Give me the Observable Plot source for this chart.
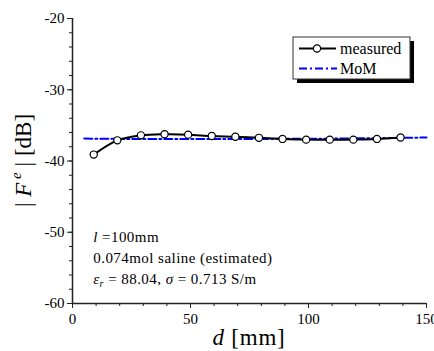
<!DOCTYPE html>
<html>
<head>
<meta charset="utf-8">
<script src="https://cdn.jsdelivr.net/npm/d3@7"></script>
<script src="https://cdn.jsdelivr.net/npm/@observablehq/plot@0.6"></script>
<style>
  html, body { margin: 0; padding: 0; background: #fff; }
  #wrap { position: relative; width: 434px; height: 351px; overflow: hidden; }
</style>
</head>
<body>
<div id="wrap"></div>
<script>
// ---- data ----
const measuredD  = [9, 19, 29, 39, 49, 59, 69, 79, 89, 99, 109, 119, 129, 139];
const measuredDb = [-39.1, -37.1, -36.4, -36.25, -36.3, -36.5, -36.6, -36.75, -36.9, -37.0, -37.0, -37.0, -36.9, -36.7];
const momD  = [5, 20, 40, 60, 80, 100, 120, 140, 150];
const momDb = [-36.85, -36.9, -36.9, -36.9, -36.9, -36.88, -36.82, -36.75, -36.7];
const xMajor = [0, 50, 100, 150];
const xMinor = [0, 10, 20, 30, 40, 50, 60, 70, 80, 90, 100, 110, 120, 130, 140, 150];
const yMajor = [-60, -50, -40, -30, -20];
const yMinor = [-60, -58, -56, -54, -52, -50, -48, -46, -44, -42, -40, -38, -36, -34, -32, -30, -28, -26, -24, -22, -20];
const legendLabels = ["measured", "MoM"];
const noteLines = ["=100mm", "0.074mol saline (estimated)", "= 88.04, ", "= 0.713 S/m"];

const measured = measuredD.map((d, i) => ({d, v: measuredDb[i]}));
const mom = momD.map((d, i) => ({d, v: momDb[i]}));

const FONT = "'Liberation Serif', 'Times New Roman', serif";
const AX = "#222";

const chart = Plot.plot({
  width: 434,
  height: 351,
  marginLeft: 72,
  marginRight: 8,
  marginTop: 18,
  marginBottom: 48,
  x: {domain: [0, 150]},
  y: {domain: [-60, -20]},
  style: {fontFamily: FONT, fontSize: "15px", background: "white", color: "black", overflow: "visible"},
  marks: [
    Plot.axisY({ticks: yMinor, tickSize: 3, tickFormat: () => "", label: null, stroke: AX}),
    Plot.axisY({ticks: yMajor, tickSize: 5, tickPadding: 3, tickFormat: d => String(d), label: null, stroke: AX, fontSize: 15}),
    Plot.axisX({ticks: xMinor, tickSize: 3, tickFormat: () => "", label: null, stroke: AX}),
    Plot.axisX({ticks: xMajor, tickSize: 5, tickPadding: 5, tickFormat: d => String(d), label: null, stroke: AX, fontSize: 15}),
    Plot.ruleX([0], {stroke: AX, strokeWidth: 1.5}),
    Plot.ruleY([-60], {stroke: AX, strokeWidth: 1.5}),
    Plot.line(mom, {x: "d", y: "v", stroke: "#0000ff", strokeWidth: 2, strokeDasharray: "8,3,2,3"}),
    Plot.line(measured, {x: "d", y: "v", stroke: "black", strokeWidth: 2, curve: "catmull-rom"}),
    Plot.dot(measured, {x: "d", y: "v", r: 3.6, fill: "white", stroke: "black", strokeWidth: 1.2})
  ]
});

document.getElementById("wrap").appendChild(chart);

const svg = d3.select(chart);
const xs = chart.scale("x"), ys = chart.scale("y");
const X = v => xs.apply(v), Y = v => ys.apply(v);

// y axis title |F^e| [dB]
const cy = (Y(-20) + Y(-60)) / 2;
const yt = svg.append("text")
  .attr("transform", `translate(31,${cy}) rotate(-90)`)
  .attr("text-anchor", "middle")
  .attr("font-family", FONT).attr("font-size", 23).attr("fill", "black");
yt.append("tspan").text("| ");
yt.append("tspan").attr("font-style", "italic").text("F");
yt.append("tspan").attr("font-style", "italic").attr("font-size", 15).attr("dy", -10).text(" e");
yt.append("tspan").attr("dy", 10).text(" | [dB]");

// x axis title d [mm]
const xt = svg.append("text")
  .attr("x", (X(0) + X(150)) / 2).attr("y", 345)
  .attr("text-anchor", "middle")
  .attr("font-family", FONT).attr("font-size", 23).attr("letter-spacing", 0.8).attr("fill", "black");
xt.append("tspan").attr("font-style", "italic").text("d");
xt.append("tspan").text(" [mm]");

// annotations
const ax = X(9);
const note = svg.append("g").attr("font-family", FONT).attr("font-size", 15).attr("letter-spacing", 0.45)
  .attr("fill", "black").attr("text-anchor", "start");
const l1 = note.append("text").attr("x", ax).attr("y", 242);
l1.append("tspan").attr("font-style", "italic").text("l");
l1.append("tspan").text(" " + noteLines[0]);
note.append("text").attr("x", ax).attr("y", 263).text(noteLines[1]);
const l3 = note.append("text").attr("x", ax).attr("y", 284);
l3.append("tspan").attr("font-style", "italic").text("ε");
l3.append("tspan").attr("font-style", "italic").attr("font-size", 10).attr("dy", 3).text("r");
l3.append("tspan").attr("dy", -3).text(" " + noteLines[2]);
l3.append("tspan").attr("font-style", "italic").text("σ");
l3.append("tspan").text(" " + noteLines[3]);

// legend
const lg = svg.append("g").attr("text-anchor", "start");
const bx = 293, by = 37, bw = 117, bh = 42;
lg.append("rect").attr("x", bx + 4).attr("y", by + 4).attr("width", bw).attr("height", bh).attr("fill", "black");
lg.append("rect").attr("x", bx).attr("y", by).attr("width", bw).attr("height", bh).attr("fill", "white").attr("stroke", "#333").attr("stroke-width", 1);
lg.append("line").attr("x1", 299).attr("x2", 336).attr("y1", 48.5).attr("y2", 48.5).attr("stroke", "black").attr("stroke-width", 2);
lg.append("circle").attr("cx", 317).attr("cy", 48.5).attr("r", 3.6).attr("fill", "white").attr("stroke", "black").attr("stroke-width", 1.2);
lg.append("line").attr("x1", 299).attr("x2", 337).attr("y1", 68.5).attr("y2", 68.5).attr("stroke", "#0000ff").attr("stroke-width", 2).attr("stroke-dasharray", "8,3,2,3");
lg.append("text").attr("x", 340).attr("y", 53.5).attr("font-family", FONT).attr("font-size", 16).attr("fill", "black").text(legendLabels[0]);
lg.append("text").attr("x", 340).attr("y", 73.5).attr("font-family", FONT).attr("font-size", 16).attr("fill", "black").text(legendLabels[1]);
</script>
</body>
</html>
